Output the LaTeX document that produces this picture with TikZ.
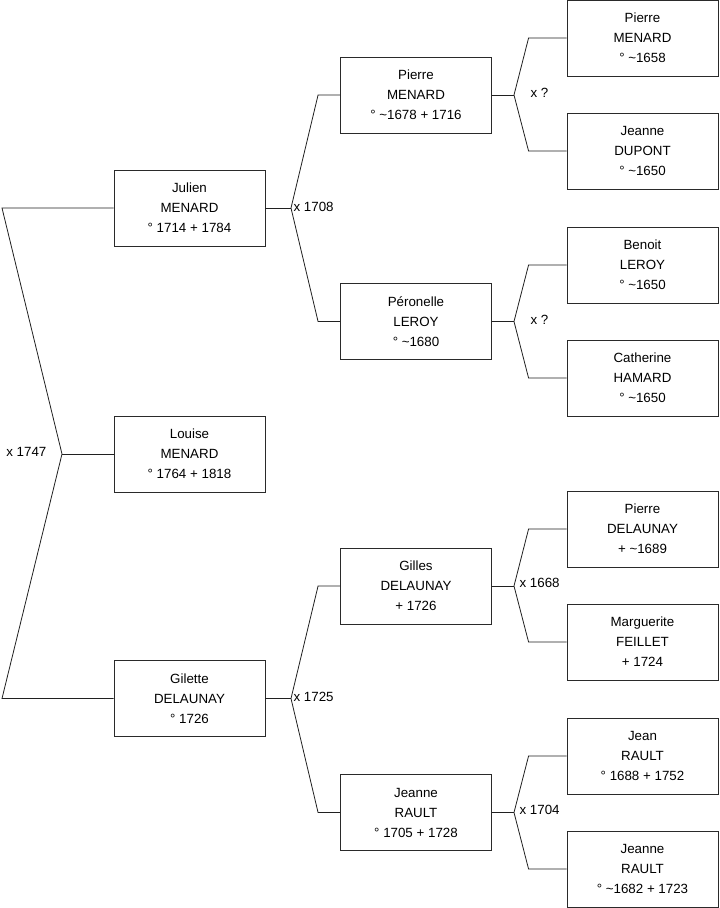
\documentclass[tikz,border=0pt]{standalone}
\usepackage{fontspec}
\setmainfont{Liberation Sans}
\usetikzlibrary{calc,positioning}
\definecolor{cBox}{HTML}{2A2A2A}
\definecolor{cLink}{HTML}{202020}
\tikzset{
  person/.style={draw=cBox,line width=0.65pt,minimum width=113.25pt,minimum height=57pt,
    inner sep=0pt,align=center,font=\fontsize{10}{15}\selectfont},
  link/.style={cLink,line width=0.6pt},
  wed/.style={font=\fontsize{10}{12}\selectfont,inner sep=1pt},
}
\begin{document}
\begin{tikzpicture}[x=0.75pt,y=-0.75pt]
  \useasboundingbox (0,0) rectangle (719,908);
  % generation 1 and 2
  \node[person] (louise)  at (189.5,454) {Louise\\MENARD\\° 1764 + 1818};
  \node[person] (julien)  at (189.5,208) {Julien\\MENARD\\° 1714 + 1784};
  \node[person] (gilette) at (189.5,698.5) {Gilette\\DELAUNAY\\° 1726};
  % generation 3
  \node[person] (pierreM)   at (416,95)  {Pierre\\MENARD\\° \textasciitilde1678 + 1716};
  \node[person] (peronelle) at (416,321.5) {Péronelle\\LEROY\\° \textasciitilde1680};
  \node[person] (gilles)    at (416,586) {Gilles\\DELAUNAY\\+ 1726};
  \node[person] (jeanneR)   at (416,812.5) {Jeanne\\RAULT\\° 1705 + 1728};
  % generation 4
  \node[person] (pierreM2)  at (642.5,38)  {Pierre\\MENARD\\° \textasciitilde1658};
  \node[person] (jeanneD)   at (642.5,151) {Jeanne\\DUPONT\\° \textasciitilde1650};
  \node[person] (benoit)    at (642.5,265) {Benoit\\LEROY\\° \textasciitilde1650};
  \node[person] (catherine) at (642.5,378) {Catherine\\HAMARD\\° \textasciitilde1650};
  \node[person] (pierreD)   at (642.5,529) {Pierre\\DELAUNAY\\+ \textasciitilde1689};
  \node[person] (marguerite) at (642.5,642) {Marguerite\\FEILLET\\+ 1724};
  \node[person] (jean)      at (642.5,756) {Jean\\RAULT\\° 1688 + 1752};
  \node[person] (jeanneR2)  at (642.5,869) {Jeanne\\RAULT\\° \textasciitilde1682 + 1723};

  % marriages
  \coordinate (m0) at (62,454);
  \coordinate (m0a) at (2,208);
  \coordinate (m0b) at (2,698.5);
  \draw[link] (louise.west) -- (m0);
  \draw[link] (julien.west) -- (m0a) -- (m0) -- (m0b) -- (gilette.west);
  \node[wed,anchor=east] (w0) at (48,452) {x 1747};

  \coordinate (m1) at (291,208);
  \draw[link] (julien.east) -- (m1);
  \draw[link] (pierreM.west) -- ++(-22,0) -- (m1) -- ($(peronelle.west)+(-22,0)$) -- (peronelle.west);
  \node[wed,anchor=west] (w1) at (292,207) {x 1708};

  \coordinate (m2) at (291,698.5);
  \draw[link] (gilette.east) -- (m2);
  \draw[link] (gilles.west) -- ++(-22,0) -- (m2) -- ($(jeanneR.west)+(-22,0)$) -- (jeanneR.west);
  \node[wed,anchor=west] (w2) at (292,697) {x 1725};

  \coordinate (m3) at (514,95);
  \draw[link] (pierreM.east) -- (m3);
  \draw[link] (pierreM2.west) -- ++(-38,0) -- (m3) -- ($(jeanneD.west)+(-38,0)$) -- (jeanneD.west);
  \node[wed,anchor=west] (w3) at (529,93) {x ?};

  \coordinate (m4) at (514,321.5);
  \draw[link] (peronelle.east) -- (m4);
  \draw[link] (benoit.west) -- ++(-38,0) -- (m4) -- ($(catherine.west)+(-38,0)$) -- (catherine.west);
  \node[wed,anchor=west] (w4) at (529,320) {x ?};

  \coordinate (m5) at (514,586);
  \draw[link] (gilles.east) -- (m5);
  \draw[link] (pierreD.west) -- ++(-38,0) -- (m5) -- ($(marguerite.west)+(-38,0)$) -- (marguerite.west);
  \node[wed,anchor=west] (w5) at (518,583) {x 1668};

  \coordinate (m6) at (514,812.5);
  \draw[link] (jeanneR.east) -- (m6);
  \draw[link] (jean.west) -- ++(-38,0) -- (m6) -- ($(jeanneR2.west)+(-38,0)$) -- (jeanneR2.west);
  \node[wed,anchor=west] (w6) at (518,810) {x 1704};
\end{tikzpicture}
\end{document}
